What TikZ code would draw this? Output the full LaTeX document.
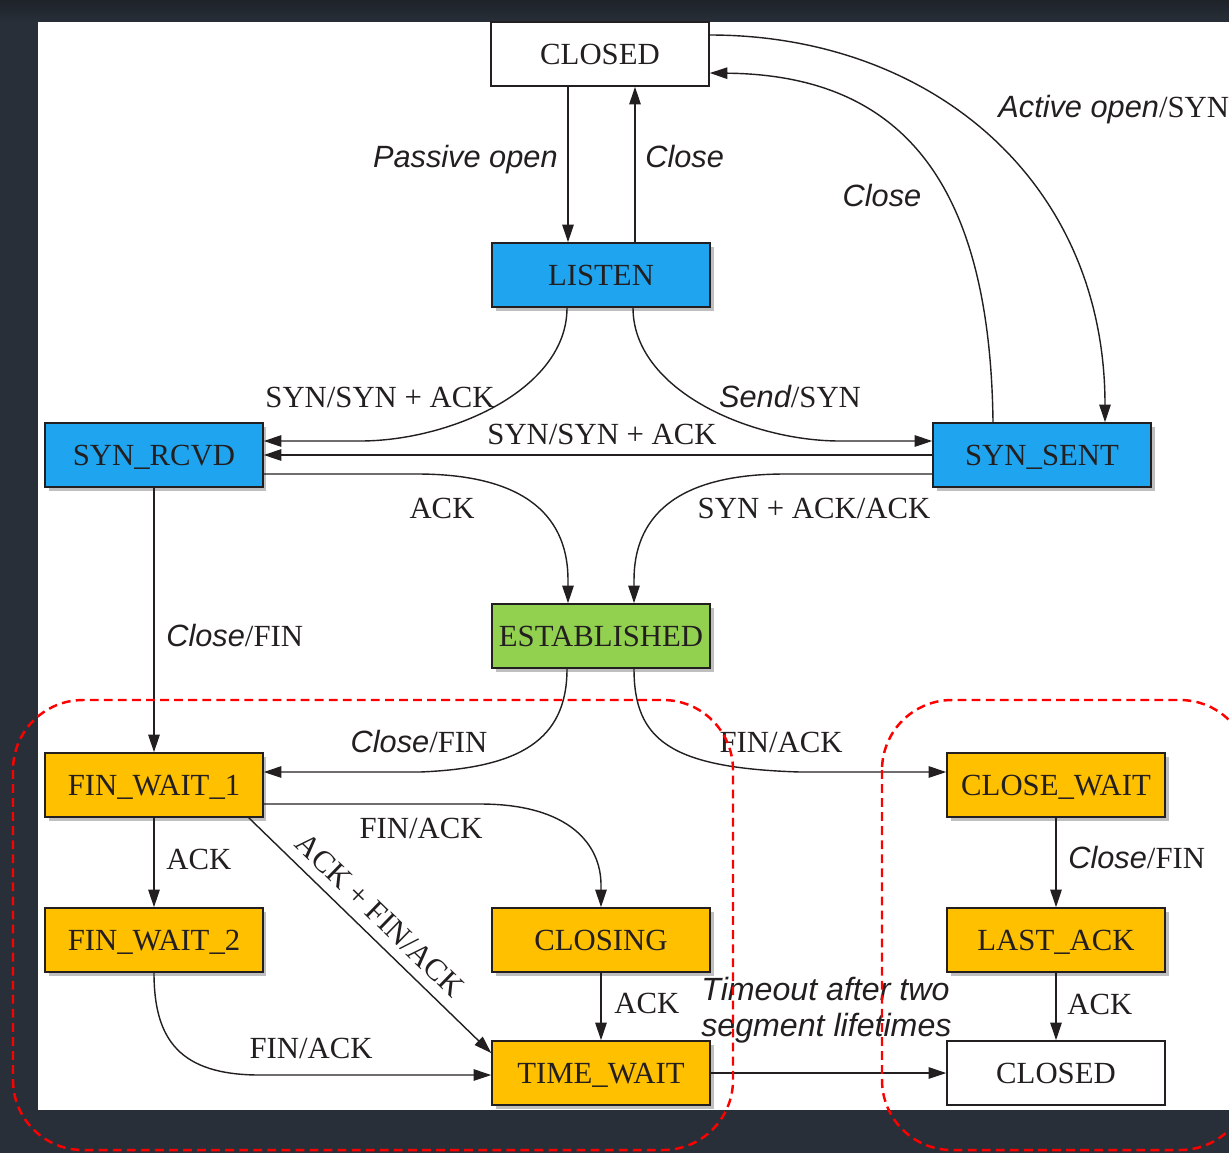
\documentclass[tikz,border=0pt]{standalone}
\usepackage{fontspec}
\setmainfont{Liberation Serif}
\newfontfamily\evtfont{Liberation Sans}
\usetikzlibrary{arrows.meta,calc,shadows}
\definecolor{bgdark}{RGB}{41,47,56}
\definecolor{bgtop}{RGB}{30,35,42}
\definecolor{ink}{RGB}{35,31,32}
\definecolor{stblue}{RGB}{31,165,240}
\definecolor{stgreen}{RGB}{146,208,80}
\definecolor{stgold}{RGB}{255,192,0}
\newcommand{\evt}[1]{{\evtfont\itshape\fontsize{17.5}{20}\selectfont #1}}

\begin{document}
\begin{tikzpicture}[x=0.02cm,y=-0.02cm,
  every node/.style={text=ink},
  state/.style={draw=ink,line width=0.9pt,minimum width=4.36cm,minimum height=1.28cm,
    inner sep=0pt,text height=11.5pt,text depth=0pt,font=\fontsize{17.5}{20}\selectfont},
  hot/.style={state,drop shadow={shadow xshift=2pt,shadow yshift=-2pt,opacity=.45,fill=black!55}},
  lbl/.style={inner sep=0pt,text height=11.5pt,text depth=0pt,font=\fontsize{17.5}{20}\selectfont},
  arr/.style={draw=ink,line width=0.8pt,-{Triangle[length=10pt,width=6.5pt]}},
  zone/.style={draw=red,line width=1.4pt,dash pattern=on 5pt off 3pt,rounded corners=1.4cm}]
\useasboundingbox (0,0) rectangle (1229,1153);
\fill[bgdark] (0,0) rectangle (1229,1153);
\shade[top color=bgtop,bottom color=bgdark] (0,0) rectangle (1229,22);
\fill[white] (38,22) rectangle (1229,1110);

% states
\node[state,fill=white] (closedA) at (600,54) {CLOSED};
\node[hot,fill=stblue] (listen) at (601,275) {LISTEN};
\node[hot,fill=stblue] (synrcvd) at (154,455) {SYN\_RCVD};
\node[hot,fill=stblue] (synsent) at (1042,455) {SYN\_SENT};
\node[hot,fill=stgreen] (estab) at (601,636) {ESTABLISHED};
\node[hot,fill=stgold] (finwaitA) at (154,785) {FIN\_WAIT\_1};
\node[hot,fill=stgold] (closewait) at (1056,785) {CLOSE\_WAIT};
\node[hot,fill=stgold] (finwaitB) at (154,940) {FIN\_WAIT\_2};
\node[hot,fill=stgold] (closing) at (601,940) {CLOSING};
\node[hot,fill=stgold] (lastack) at (1056,940) {LAST\_ACK};
\node[hot,fill=stgold] (timewait) at (601,1073) {TIME\_WAIT};
\node[state,fill=white] (closedB) at (1056,1073) {CLOSED};

% opening
\draw[arr] ($(closedA.south)+(-32,0)$) -- ($(listen.north)+(-33,0)$);
\draw[arr] ($(listen.north)+(34,0)$) -- ($(closedA.south)+(35,0)$);
\draw[arr] ($(closedA.east)+(0,-19)$) .. controls (930,35) and (1105,180) .. ($(synsent.north)+(63,0)$);
\draw[arr] ($(synsent.north)+(-49,0)$) .. controls (990,180) and (900,75) .. ($(closedA.east)+(0,19)$);
\draw[arr] ($(listen.south)+(-34,0)$) .. controls (567,390) and (450,441) .. (360,441) -- ($(synrcvd.east)+(0,-14)$);
\draw[arr] ($(listen.south)+(32,0)$) .. controls (633,390) and (750,441) .. (840,441) -- ($(synsent.west)+(0,-14)$);
\draw[arr] (synsent.west) -- (synrcvd.east);
\draw[arr] ($(synrcvd.east)+(0,19)$) -- (417,474) .. controls (530,474) and (568,520) .. (568,580) -- ($(estab.north)+(-33,0)$);
\draw[arr] ($(synsent.west)+(0,19)$) -- (785,474) .. controls (672,474) and (634,520) .. (634,580) -- ($(estab.north)+(33,0)$);

% closing
\draw[arr] (synrcvd.south) -- (finwaitA.north);
\draw[arr] ($(estab.south)+(-34,0)$) .. controls (567,740) and (520,768) .. (420,772) -- ($(finwaitA.east)+(0,-13)$);
\draw[arr] ($(estab.south)+(33,0)$) .. controls (634,740) and (670,768) .. (800,772) -- ($(closewait.west)+(0,-13)$);
\draw[arr] ($(finwaitA.east)+(0,19)$) -- (480,804) .. controls (570,804) and (601,845) .. (601,885) -- (closing.north);
\draw[arr] ($(finwaitA.south east)+(-15,0)$) -- ($(timewait.west)+(0,-20)$)
  node[lbl,sloped,pos=0.48,above=6pt] (lDiag) {ACK + FIN/ACK};
\draw[arr] (finwaitA.south) -- (finwaitB.north);
\draw[arr] (finwaitB.south) .. controls (154,1040) and (180,1075) .. (260,1075) -- ($(timewait.west)+(0,2)$);
\draw[arr] (closing.south) -- (timewait.north);
\draw[arr] (timewait.east) -- (closedB.west);
\draw[arr] (closewait.south) -- (lastack.north);
\draw[arr] (lastack.south) -- (closedB.north);

% labels
\node[lbl,anchor=east] (lPassive) at (558,157) {\evt{Passive open}};
\node[lbl,anchor=west] (lCloseA) at (645,157) {\evt{Close}};
\node[lbl] (lCloseB) at (882,196) {\evt{Close}};
\node[lbl,anchor=west] (lActive) at (998,107) {\evt{Active open}/SYN};
\node[lbl] (lSynA) at (380,397) {SYN/SYN + ACK};
\node[lbl] (lSend) at (790,397) {\evt{Send}/SYN};
\node[lbl] (lSynB) at (602,434) {SYN/SYN + ACK};
\node[lbl] (lAckA) at (442,508) {ACK};
\node[lbl] (lSynAck) at (814,508) {SYN + ACK/ACK};
\node[lbl,anchor=west] (lCloseFinA) at (166,636) {\evt{Close}/FIN};
\node[lbl] (lCloseFinB) at (419,742) {\evt{Close}/FIN};
\node[lbl] (lFinAckA) at (781,742) {FIN/ACK};
\node[lbl] (lFinAckB) at (421,828) {FIN/ACK};
\node[lbl,anchor=west] (lAckB) at (166,859) {ACK};
\node[lbl] (lFinAckC) at (311,1048) {FIN/ACK};
\node[lbl,anchor=west] (lAckC) at (614,1003) {ACK};
\node[lbl,anchor=west] (lCloseFinC) at (1068,858) {\evt{Close}/FIN};
\node[lbl,anchor=west] (lAckD) at (1067,1004) {ACK};
\node[inner sep=0pt,align=left,anchor=north west,font=\evtfont\itshape\fontsize{18.3}{20.5}\selectfont]
  (lTimeout) at (701,977) {Timeout after two\\segment lifetimes};

% regions
\draw[zone] (13,700) rectangle (733,1150);
\draw[zone] (882,700) rectangle (1250,1150);
\end{tikzpicture}
\end{document}
